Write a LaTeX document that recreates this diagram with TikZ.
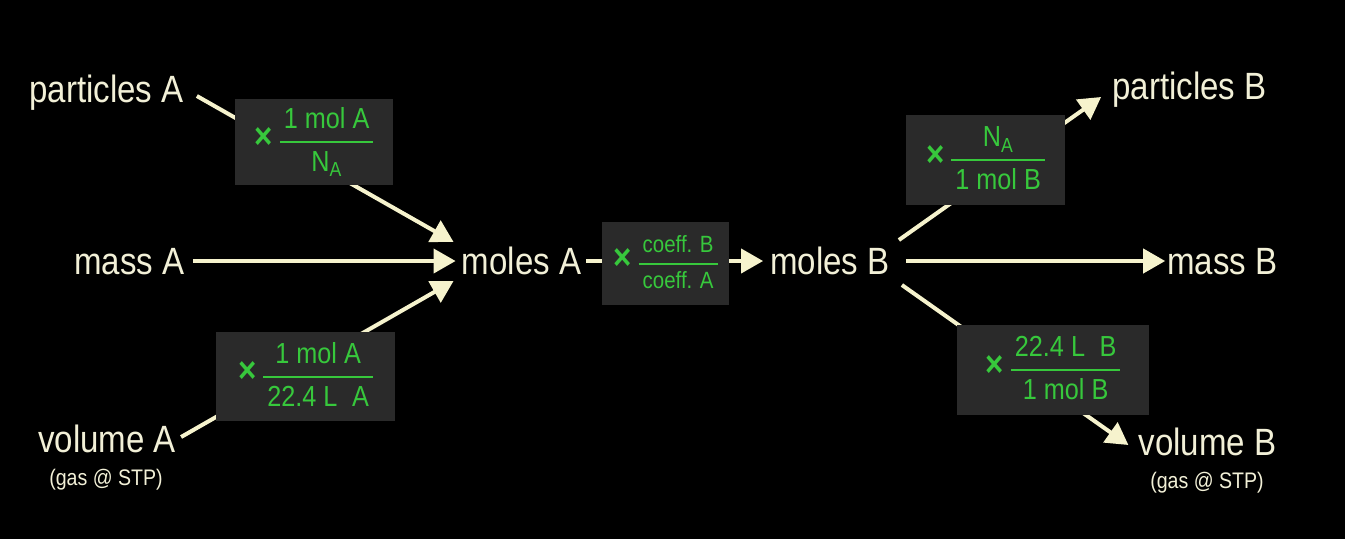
\documentclass[tikz,border=0pt]{standalone}
\usepackage{fontspec}
\setmainfont{Liberation Sans}[FakeStretch=0.87]
\usetikzlibrary{arrows.meta}

% fraction used inside the conversion boxes
\newcommand{\convfrac}[2]{%
  {\setlength{\arrayrulewidth}{2pt}\renewcommand{\arraystretch}{1.2}%
  \begin{tabular}{@{\hspace{4pt}}c@{\hspace{4pt}}}#1\\\hline #2\end{tabular}}}
\newcommand{\timessign}{{\bfseries\fontsize{36}{36}\selectfont ×}\hspace{7pt}}

\begin{document}
\begin{tikzpicture}[x=1pt,y=-1pt]
    % Define colors
    \definecolor{bgcolor}{RGB}{0,0,0}
    \definecolor{labelcolor}{RGB}{242,240,215}
    \definecolor{arrowcolor}{RGB}{246,243,205}
    \definecolor{boxcolor}{RGB}{42,42,42}
    \definecolor{factorcolor}{RGB}{55,200,60}

    % Define styles
    \tikzset{
        quantity/.style={text=labelcolor, inner sep=0pt, anchor=base, font=\fontsize{38}{40}\selectfont},
        gasnote/.style={text=labelcolor, inner sep=0pt, anchor=base, font=\fontsize{22.5}{26}\selectfont},
        convbox/.style={fill=boxcolor, text=factorcolor, inner sep=0pt, font=\fontsize{29}{34}\selectfont},
        flow/.style={draw=arrowcolor, line width=4pt, -{Triangle[length=22pt,width=24pt]}}
    }

    % Background
    \fill[bgcolor] (0,0) rectangle (1345,539);

    % Quantities of substance A
    \node[quantity] (partA) at (106.5,102) {particles A};
    \node[quantity] (massA) at (129.5,274) {mass A};
    \node[quantity] (volA) at (107,452) {volume A};
    \node[gasnote] (gasA) at (106,485) {(gas @ STP)};

    % Moles in the middle
    \node[quantity] (molA) at (521.5,274) {moles A};
    \node[quantity] (molB) at (830,274) {moles B};

    % Quantities of substance B
    \node[quantity] (partB) at (1189.5,99) {particles B};
    \node[quantity] (massB) at (1222.5,274) {mass B};
    \node[quantity] (volB) at (1207.5,455) {volume B};
    \node[gasnote] (gasB) at (1207,488) {(gas @ STP)};

    % Arrows into moles A
    \draw[flow] ([shift={(13,-6)}]partA.base east) -- ([shift={(-8,-32)}]molA.base west);
    \draw[flow] ([shift={(8,-13)}]massA.base east) -- ([shift={(-6,-13)}]molA.base west);
    \draw[flow] ([shift={(5,-15)}]volA.base east) -- ([shift={(-8,7)}]molA.base west);

    % Mole ratio arrow
    \draw[flow] ([shift={(5,-13)}]molA.base east) -- ([shift={(-7,-13)}]molB.base west);

    % Arrows out of moles B
    \draw[flow] ([shift={(9,-34)}]molB.base east) -- ([shift={(-11,-2)}]partB.base west);
    \draw[flow] ([shift={(16,-13)}]molB.base east) -- ([shift={(-2,-13)}]massB.base west);
    \draw[flow] ([shift={(12,11)}]molB.base east) -- ([shift={(-10,-10)}]volB.base west);

    % Conversion factor boxes
    \node[convbox, minimum width=158pt, minimum height=86pt] (boxPA) at (314,142)
        {\timessign\convfrac{1 mol A}{N\textsubscript{A}}};
    \node[convbox, minimum width=179pt, minimum height=89pt] (boxVA) at (305.5,376.5)
        {\timessign\convfrac{1 mol A}{22.4 L\hspace{0.5em}A}};
    \node[convbox, minimum width=127pt, minimum height=83pt, font=\fontsize{23.5}{28}\selectfont] (boxC) at (665.5,263.5)
        {\timessign\convfrac{coeff. B}{coeff. A}};
    \node[convbox, minimum width=159pt, minimum height=90pt] (boxPB) at (985.5,160)
        {\timessign\convfrac{N\textsubscript{A}}{1 mol B}};
    \node[convbox, minimum width=192pt, minimum height=90pt] (boxVB) at (1053,370)
        {\timessign\convfrac{22.4 L\hspace{0.5em}B}{1 mol B}};

\end{tikzpicture}
\end{document}
